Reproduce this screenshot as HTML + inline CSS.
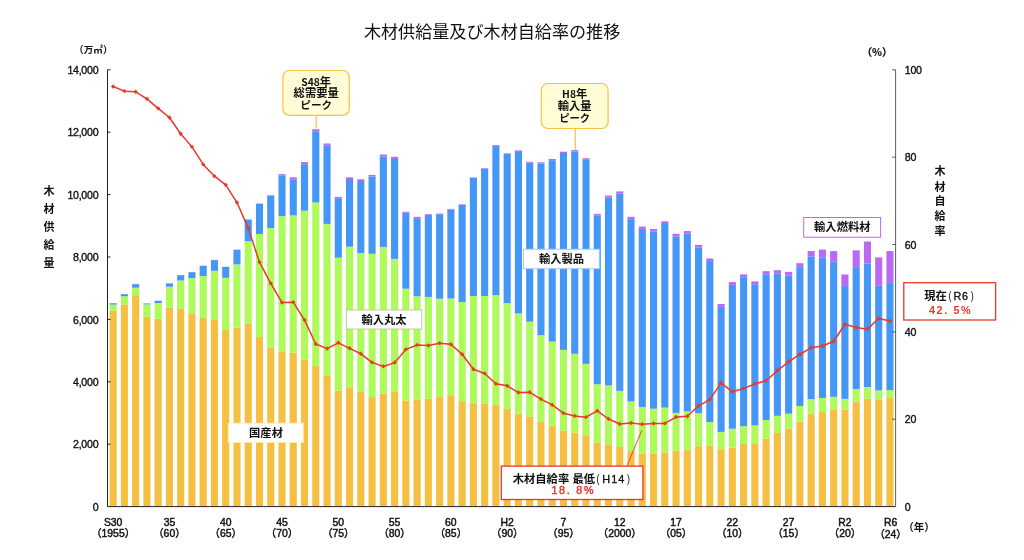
<!DOCTYPE html>
<html lang="ja"><head><meta charset="utf-8"><title>木材供給量及び木材自給率の推移</title>
<style>
html,body{margin:0;padding:0;background:#fff;}
body{width:1024px;height:560px;overflow:hidden;}
svg{display:block;}
text{font-family:"Liberation Sans","Noto Sans CJK JP",sans-serif;fill:#111;}
.jp{font-family:"Noto Sans CJK JP","Liberation Sans",sans-serif;}
.b{font-weight:bold;}
</style></head><body>
<svg width="1024" height="560" viewBox="0 0 1024 560">
<rect x="0" y="0" width="1024" height="560" fill="#fff"/>
<text class="jp" x="492.1" y="38.4" font-size="17.1" text-anchor="middle" fill="#1a1a1a">木材供給量及び木材自給率の推移</text>
<g fill="#f5bf42">
<rect x="109.58" y="310.80" width="7.10" height="195.80"/><rect x="120.84" y="304.40" width="7.10" height="202.20"/><rect x="132.10" y="295.10" width="7.10" height="211.50"/><rect x="143.35" y="316.80" width="7.10" height="189.80"/><rect x="154.61" y="318.90" width="7.10" height="187.70"/><rect x="165.87" y="307.60" width="7.10" height="199.00"/><rect x="177.13" y="308.90" width="7.10" height="197.70"/><rect x="188.39" y="313.40" width="7.10" height="193.20"/><rect x="199.65" y="317.90" width="7.10" height="188.70"/><rect x="210.91" y="320.00" width="7.10" height="186.60"/><rect x="222.16" y="330.00" width="7.10" height="176.60"/><rect x="233.42" y="327.70" width="7.10" height="178.90"/><rect x="244.68" y="323.50" width="7.10" height="183.10"/><rect x="255.94" y="337.00" width="7.10" height="169.60"/><rect x="267.20" y="347.50" width="7.10" height="159.10"/><rect x="278.46" y="351.30" width="7.10" height="155.30"/><rect x="289.72" y="352.50" width="7.10" height="154.10"/><rect x="300.97" y="359.50" width="7.10" height="147.10"/><rect x="312.23" y="366.10" width="7.10" height="140.50"/><rect x="323.49" y="375.30" width="7.10" height="131.30"/><rect x="334.75" y="390.50" width="7.10" height="116.10"/><rect x="346.01" y="387.30" width="7.10" height="119.30"/><rect x="357.27" y="392.10" width="7.10" height="114.50"/><rect x="368.53" y="397.10" width="7.10" height="109.50"/><rect x="379.79" y="393.60" width="7.10" height="113.00"/><rect x="391.04" y="391.30" width="7.10" height="115.30"/><rect x="402.30" y="400.50" width="7.10" height="106.10"/><rect x="413.56" y="399.40" width="7.10" height="107.20"/><rect x="424.82" y="398.80" width="7.10" height="107.80"/><rect x="436.08" y="397.00" width="7.10" height="109.60"/><rect x="447.34" y="396.00" width="7.10" height="110.60"/><rect x="458.59" y="401.20" width="7.10" height="105.40"/><rect x="469.85" y="403.10" width="7.10" height="103.50"/><rect x="481.11" y="403.40" width="7.10" height="103.20"/><rect x="492.37" y="404.90" width="7.10" height="101.70"/><rect x="503.63" y="408.90" width="7.10" height="97.70"/><rect x="514.89" y="413.60" width="7.10" height="93.00"/><rect x="526.15" y="416.40" width="7.10" height="90.20"/><rect x="537.41" y="421.90" width="7.10" height="84.70"/><rect x="548.66" y="425.70" width="7.10" height="80.90"/><rect x="559.92" y="430.70" width="7.10" height="75.90"/><rect x="571.18" y="432.60" width="7.10" height="74.00"/><rect x="582.44" y="435.30" width="7.10" height="71.30"/><rect x="593.70" y="442.40" width="7.10" height="64.20"/><rect x="604.96" y="444.20" width="7.10" height="62.40"/><rect x="616.22" y="447.00" width="7.10" height="59.60"/><rect x="627.47" y="451.20" width="7.10" height="55.40"/><rect x="638.73" y="453.80" width="7.10" height="52.80"/><rect x="649.99" y="453.80" width="7.10" height="52.80"/><rect x="661.25" y="452.30" width="7.10" height="54.30"/><rect x="672.51" y="450.70" width="7.10" height="55.90"/><rect x="683.77" y="449.60" width="7.10" height="57.00"/><rect x="695.03" y="446.20" width="7.10" height="60.40"/><rect x="706.28" y="445.80" width="7.10" height="60.80"/><rect x="717.54" y="449.20" width="7.10" height="57.40"/><rect x="728.80" y="447.60" width="7.10" height="59.00"/><rect x="740.06" y="443.80" width="7.10" height="62.80"/><rect x="751.32" y="443.30" width="7.10" height="63.30"/><rect x="762.58" y="438.80" width="7.10" height="67.80"/><rect x="773.84" y="433.00" width="7.10" height="73.60"/><rect x="785.09" y="428.80" width="7.10" height="77.80"/><rect x="796.35" y="421.70" width="7.10" height="84.90"/><rect x="807.61" y="413.70" width="7.10" height="92.90"/><rect x="818.87" y="412.10" width="7.10" height="94.50"/><rect x="830.13" y="409.90" width="7.10" height="96.70"/><rect x="841.39" y="409.70" width="7.10" height="96.90"/><rect x="852.65" y="401.50" width="7.10" height="105.10"/><rect x="863.90" y="398.90" width="7.10" height="107.70"/><rect x="875.16" y="399.30" width="7.10" height="107.30"/><rect x="886.42" y="398.00" width="7.10" height="108.60"/>
</g>
<g fill="#aefa5b">
<rect x="109.58" y="304.60" width="7.10" height="6.20"/><rect x="120.84" y="296.20" width="7.10" height="8.20"/><rect x="132.10" y="287.70" width="7.10" height="7.40"/><rect x="143.35" y="304.40" width="7.10" height="12.40"/><rect x="154.61" y="303.00" width="7.10" height="15.90"/><rect x="165.87" y="286.70" width="7.10" height="20.90"/><rect x="177.13" y="280.50" width="7.10" height="28.40"/><rect x="188.39" y="278.10" width="7.10" height="35.30"/><rect x="199.65" y="276.00" width="7.10" height="41.90"/><rect x="210.91" y="270.80" width="7.10" height="49.20"/><rect x="222.16" y="277.80" width="7.10" height="52.20"/><rect x="233.42" y="264.40" width="7.10" height="63.30"/><rect x="244.68" y="241.10" width="7.10" height="82.40"/><rect x="255.94" y="234.00" width="7.10" height="103.00"/><rect x="267.20" y="228.10" width="7.10" height="119.40"/><rect x="278.46" y="216.20" width="7.10" height="135.10"/><rect x="289.72" y="215.40" width="7.10" height="137.10"/><rect x="300.97" y="210.70" width="7.10" height="148.80"/><rect x="312.23" y="202.50" width="7.10" height="163.60"/><rect x="323.49" y="223.90" width="7.10" height="151.40"/><rect x="334.75" y="257.70" width="7.10" height="132.80"/><rect x="346.01" y="246.70" width="7.10" height="140.60"/><rect x="357.27" y="253.00" width="7.10" height="139.10"/><rect x="368.53" y="253.80" width="7.10" height="143.30"/><rect x="379.79" y="246.90" width="7.10" height="146.70"/><rect x="391.04" y="258.90" width="7.10" height="132.40"/><rect x="402.30" y="288.70" width="7.10" height="111.80"/><rect x="413.56" y="296.30" width="7.10" height="103.10"/><rect x="424.82" y="296.90" width="7.10" height="101.90"/><rect x="436.08" y="298.70" width="7.10" height="98.30"/><rect x="447.34" y="298.50" width="7.10" height="97.50"/><rect x="458.59" y="302.10" width="7.10" height="99.10"/><rect x="469.85" y="296.00" width="7.10" height="107.10"/><rect x="481.11" y="296.00" width="7.10" height="107.40"/><rect x="492.37" y="295.20" width="7.10" height="109.70"/><rect x="503.63" y="303.20" width="7.10" height="105.70"/><rect x="514.89" y="313.50" width="7.10" height="100.10"/><rect x="526.15" y="321.70" width="7.10" height="94.70"/><rect x="537.41" y="335.20" width="7.10" height="86.70"/><rect x="548.66" y="341.60" width="7.10" height="84.10"/><rect x="559.92" y="349.90" width="7.10" height="80.80"/><rect x="571.18" y="353.80" width="7.10" height="78.80"/><rect x="582.44" y="363.80" width="7.10" height="71.50"/><rect x="593.70" y="384.20" width="7.10" height="58.20"/><rect x="604.96" y="385.40" width="7.10" height="58.80"/><rect x="616.22" y="390.90" width="7.10" height="56.10"/><rect x="627.47" y="401.50" width="7.10" height="49.70"/><rect x="638.73" y="407.10" width="7.10" height="46.70"/><rect x="649.99" y="408.70" width="7.10" height="45.10"/><rect x="661.25" y="407.60" width="7.10" height="44.70"/><rect x="672.51" y="412.90" width="7.10" height="37.80"/><rect x="683.77" y="411.30" width="7.10" height="38.30"/><rect x="695.03" y="413.20" width="7.10" height="33.00"/><rect x="706.28" y="422.10" width="7.10" height="23.70"/><rect x="717.54" y="431.90" width="7.10" height="17.30"/><rect x="728.80" y="428.70" width="7.10" height="18.90"/><rect x="740.06" y="426.10" width="7.10" height="17.70"/><rect x="751.32" y="425.40" width="7.10" height="17.90"/><rect x="762.58" y="420.00" width="7.10" height="18.80"/><rect x="773.84" y="415.80" width="7.10" height="17.20"/><rect x="785.09" y="413.70" width="7.10" height="15.10"/><rect x="796.35" y="406.00" width="7.10" height="15.70"/><rect x="807.61" y="399.10" width="7.10" height="14.60"/><rect x="818.87" y="398.00" width="7.10" height="14.10"/><rect x="830.13" y="396.80" width="7.10" height="13.10"/><rect x="841.39" y="398.90" width="7.10" height="10.80"/><rect x="852.65" y="389.10" width="7.10" height="12.40"/><rect x="863.90" y="387.00" width="7.10" height="11.90"/><rect x="875.16" y="390.40" width="7.10" height="8.90"/><rect x="886.42" y="390.10" width="7.10" height="7.90"/>
</g>
<g fill="#4497f7">
<rect x="109.58" y="303.30" width="7.10" height="1.30"/><rect x="120.84" y="294.20" width="7.10" height="2.00"/><rect x="132.10" y="284.20" width="7.10" height="3.50"/><rect x="143.35" y="303.60" width="7.10" height="0.80"/><rect x="154.61" y="300.90" width="7.10" height="2.10"/><rect x="165.87" y="283.50" width="7.10" height="3.20"/><rect x="177.13" y="275.20" width="7.10" height="5.30"/><rect x="188.39" y="272.20" width="7.10" height="5.90"/><rect x="199.65" y="265.90" width="7.10" height="10.10"/><rect x="210.91" y="260.10" width="7.10" height="10.70"/><rect x="222.16" y="267.00" width="7.10" height="10.80"/><rect x="233.42" y="249.80" width="7.10" height="14.60"/><rect x="244.68" y="219.60" width="7.10" height="21.50"/><rect x="255.94" y="203.70" width="7.10" height="30.30"/><rect x="267.20" y="195.40" width="7.10" height="32.70"/><rect x="278.46" y="175.40" width="7.10" height="40.80"/><rect x="289.72" y="179.30" width="7.10" height="36.10"/><rect x="300.97" y="164.30" width="7.10" height="46.40"/><rect x="312.23" y="131.20" width="7.10" height="71.30"/><rect x="323.49" y="145.70" width="7.10" height="78.20"/><rect x="334.75" y="198.20" width="7.10" height="59.50"/><rect x="346.01" y="179.00" width="7.10" height="67.70"/><rect x="357.27" y="181.00" width="7.10" height="72.00"/><rect x="368.53" y="176.50" width="7.10" height="77.30"/><rect x="379.79" y="156.60" width="7.10" height="90.30"/><rect x="391.04" y="159.00" width="7.10" height="99.90"/><rect x="402.30" y="212.80" width="7.10" height="75.90"/><rect x="413.56" y="218.20" width="7.10" height="78.10"/><rect x="424.82" y="215.00" width="7.10" height="81.90"/><rect x="436.08" y="214.20" width="7.10" height="84.50"/><rect x="447.34" y="209.70" width="7.10" height="88.80"/><rect x="458.59" y="204.90" width="7.10" height="97.20"/><rect x="469.85" y="177.90" width="7.10" height="118.10"/><rect x="481.11" y="168.60" width="7.10" height="127.40"/><rect x="492.37" y="145.50" width="7.10" height="149.70"/><rect x="503.63" y="153.80" width="7.10" height="149.40"/><rect x="514.89" y="151.10" width="7.10" height="162.40"/><rect x="526.15" y="162.70" width="7.10" height="159.00"/><rect x="537.41" y="163.50" width="7.10" height="171.70"/><rect x="548.66" y="160.20" width="7.10" height="181.40"/><rect x="559.92" y="153.00" width="7.10" height="196.90"/><rect x="571.18" y="151.60" width="7.10" height="202.20"/><rect x="582.44" y="159.80" width="7.10" height="204.00"/><rect x="593.70" y="215.30" width="7.10" height="168.90"/><rect x="604.96" y="197.50" width="7.10" height="187.90"/><rect x="616.22" y="193.70" width="7.10" height="197.20"/><rect x="627.47" y="219.10" width="7.10" height="182.40"/><rect x="638.73" y="228.90" width="7.10" height="178.20"/><rect x="649.99" y="231.70" width="7.10" height="177.00"/><rect x="661.25" y="224.00" width="7.10" height="183.60"/><rect x="672.51" y="236.50" width="7.10" height="176.40"/><rect x="683.77" y="233.60" width="7.10" height="177.70"/><rect x="695.03" y="247.30" width="7.10" height="165.90"/><rect x="706.28" y="261.10" width="7.10" height="161.00"/><rect x="717.54" y="306.90" width="7.10" height="125.00"/><rect x="728.80" y="284.90" width="7.10" height="143.80"/><rect x="740.06" y="277.20" width="7.10" height="148.90"/><rect x="751.32" y="284.20" width="7.10" height="141.20"/><rect x="762.58" y="274.30" width="7.10" height="145.70"/><rect x="773.84" y="273.40" width="7.10" height="142.40"/><rect x="785.09" y="275.60" width="7.10" height="138.10"/><rect x="796.35" y="267.20" width="7.10" height="138.80"/><rect x="807.61" y="256.60" width="7.10" height="142.50"/><rect x="818.87" y="257.70" width="7.10" height="140.30"/><rect x="830.13" y="261.80" width="7.10" height="135.00"/><rect x="841.39" y="286.10" width="7.10" height="112.80"/><rect x="852.65" y="267.20" width="7.10" height="121.90"/><rect x="863.90" y="263.50" width="7.10" height="123.50"/><rect x="875.16" y="285.80" width="7.10" height="104.60"/><rect x="886.42" y="283.10" width="7.10" height="107.00"/>
</g>
<g fill="#b96af3">
<rect x="109.58" y="303.00" width="7.10" height="0.30"/><rect x="120.84" y="294.00" width="7.10" height="0.20"/><rect x="132.10" y="283.90" width="7.10" height="0.30"/><rect x="143.35" y="303.30" width="7.10" height="0.30"/><rect x="154.61" y="300.70" width="7.10" height="0.20"/><rect x="165.87" y="283.20" width="7.10" height="0.30"/><rect x="177.13" y="275.00" width="7.10" height="0.20"/><rect x="188.39" y="272.00" width="7.10" height="0.20"/><rect x="199.65" y="265.70" width="7.10" height="0.20"/><rect x="210.91" y="259.90" width="7.10" height="0.20"/><rect x="222.16" y="266.80" width="7.10" height="0.20"/><rect x="233.42" y="249.60" width="7.10" height="0.20"/><rect x="244.68" y="219.40" width="7.10" height="0.20"/><rect x="255.94" y="203.50" width="7.10" height="0.20"/><rect x="267.20" y="195.20" width="7.10" height="0.20"/><rect x="278.46" y="174.10" width="7.10" height="1.30"/><rect x="289.72" y="177.30" width="7.10" height="2.00"/><rect x="300.97" y="162.10" width="7.10" height="2.20"/><rect x="312.23" y="129.20" width="7.10" height="2.00"/><rect x="323.49" y="143.50" width="7.10" height="2.20"/><rect x="334.75" y="196.90" width="7.10" height="1.30"/><rect x="346.01" y="177.30" width="7.10" height="1.70"/><rect x="357.27" y="179.30" width="7.10" height="1.70"/><rect x="368.53" y="174.90" width="7.10" height="1.60"/><rect x="379.79" y="154.50" width="7.10" height="2.10"/><rect x="391.04" y="156.80" width="7.10" height="2.20"/><rect x="402.30" y="211.80" width="7.10" height="1.00"/><rect x="413.56" y="216.90" width="7.10" height="1.30"/><rect x="424.82" y="214.20" width="7.10" height="0.80"/><rect x="436.08" y="213.60" width="7.10" height="0.60"/><rect x="447.34" y="208.90" width="7.10" height="0.80"/><rect x="458.59" y="204.30" width="7.10" height="0.60"/><rect x="469.85" y="177.40" width="7.10" height="0.50"/><rect x="481.11" y="168.10" width="7.10" height="0.50"/><rect x="492.37" y="145.00" width="7.10" height="0.50"/><rect x="503.63" y="153.30" width="7.10" height="0.50"/><rect x="514.89" y="150.40" width="7.10" height="0.70"/><rect x="526.15" y="161.80" width="7.10" height="0.90"/><rect x="537.41" y="162.30" width="7.10" height="1.20"/><rect x="548.66" y="159.00" width="7.10" height="1.20"/><rect x="559.92" y="151.70" width="7.10" height="1.30"/><rect x="571.18" y="150.10" width="7.10" height="1.50"/><rect x="582.44" y="158.20" width="7.10" height="1.60"/><rect x="593.70" y="213.90" width="7.10" height="1.40"/><rect x="604.96" y="195.60" width="7.10" height="1.90"/><rect x="616.22" y="191.40" width="7.10" height="2.30"/><rect x="627.47" y="216.80" width="7.10" height="2.30"/><rect x="638.73" y="226.60" width="7.10" height="2.30"/><rect x="649.99" y="229.00" width="7.10" height="2.70"/><rect x="661.25" y="221.30" width="7.10" height="2.70"/><rect x="672.51" y="233.80" width="7.10" height="2.70"/><rect x="683.77" y="231.10" width="7.10" height="2.50"/><rect x="695.03" y="244.90" width="7.10" height="2.40"/><rect x="706.28" y="258.50" width="7.10" height="2.60"/><rect x="717.54" y="304.00" width="7.10" height="2.90"/><rect x="728.80" y="282.10" width="7.10" height="2.80"/><rect x="740.06" y="274.40" width="7.10" height="2.80"/><rect x="751.32" y="281.40" width="7.10" height="2.80"/><rect x="762.58" y="271.20" width="7.10" height="3.10"/><rect x="773.84" y="270.20" width="7.10" height="3.20"/><rect x="785.09" y="271.90" width="7.10" height="3.70"/><rect x="796.35" y="263.20" width="7.10" height="4.00"/><rect x="807.61" y="251.10" width="7.10" height="5.50"/><rect x="818.87" y="249.60" width="7.10" height="8.10"/><rect x="830.13" y="251.10" width="7.10" height="10.70"/><rect x="841.39" y="274.50" width="7.10" height="11.60"/><rect x="852.65" y="250.30" width="7.10" height="16.90"/><rect x="863.90" y="241.50" width="7.10" height="22.00"/><rect x="875.16" y="257.40" width="7.10" height="28.40"/><rect x="886.42" y="251.10" width="7.10" height="32.00"/>
</g>
<g stroke="#222" stroke-width="1" fill="none">
<path d="M107.50 69.80 V506.60 H895.60"/>
<path d="M107.50 444.20 h3"/><path d="M107.50 381.80 h3"/><path d="M107.50 319.40 h3"/><path d="M107.50 257.00 h3"/><path d="M107.50 194.60 h3"/><path d="M107.50 132.20 h3"/><path d="M107.50 69.80 h3"/>
</g>
<g stroke="#333" stroke-width="0.8" fill="none">
<path d="M895.60 69.80 V506.60"/>
<path d="M895.60 419.24 h-3.4"/><path d="M895.60 331.88 h-3.4"/><path d="M895.60 244.52 h-3.4"/><path d="M895.60 157.16 h-3.4"/><path d="M895.60 69.80 h-3.4"/>
</g>
<g font-size="10.6" text-anchor="end" letter-spacing="-0.25" stroke="#111" stroke-width="0.36">
<text x="98.3" y="510.80">0</text><text x="98.3" y="448.40">2,000</text><text x="98.3" y="386.00">4,000</text><text x="98.3" y="323.60">6,000</text><text x="98.3" y="261.20">8,000</text><text x="98.3" y="198.80">10,000</text><text x="98.3" y="136.40">12,000</text><text x="98.3" y="74.00">14,000</text>
</g>
<g font-size="10.6" text-anchor="start" letter-spacing="-0.25" stroke="#111" stroke-width="0.36">
<text x="904.8" y="510.80">0</text><text x="904.8" y="423.44">20</text><text x="904.8" y="336.08">40</text><text x="904.8" y="248.72">60</text><text x="904.8" y="161.36">80</text><text x="904.8" y="74.00">100</text>
</g>
<text class="jp b" x="93.3" y="53" font-size="9.6" text-anchor="middle">（万㎥）</text>
<text class="jp b" x="877.1" y="56.2" font-size="10.4" text-anchor="middle" stroke="#111" stroke-width="0.2">（%）</text>
<text class="jp b" x="918.9" y="530.5" font-size="10.5" text-anchor="middle">（年）</text>
<g class="jp b" font-size="11" text-anchor="middle">
<text class="jp" x="49" y="194.7">木</text><text class="jp" x="49" y="213.0">材</text><text class="jp" x="49" y="230.7">供</text><text class="jp" x="49" y="248.7">給</text><text class="jp" x="49" y="266.7">量</text><text class="jp" x="940" y="175.4">木</text><text class="jp" x="940" y="190.6">材</text><text class="jp" x="940" y="205.2">自</text><text class="jp" x="940" y="220.0">給</text><text class="jp" x="940" y="234.7">率</text>
</g>
<g font-size="10.4" text-anchor="middle" stroke="#111" stroke-width="0.45">
<text x="113.13" y="525.50">S30</text><text x="113.13" y="537.30">（1955）</text><text x="169.42" y="525.50">35</text><text x="169.42" y="537.30">（60）</text><text x="225.72" y="525.50">40</text><text x="225.72" y="537.30">（65）</text><text x="282.01" y="525.50">45</text><text x="282.01" y="537.30">（70）</text><text x="338.30" y="525.50">50</text><text x="338.30" y="537.30">（75）</text><text x="394.59" y="525.50">55</text><text x="394.59" y="537.30">（80）</text><text x="450.89" y="525.50">60</text><text x="450.89" y="537.30">（85）</text><text x="507.18" y="525.50">H2</text><text x="507.18" y="537.30">（90）</text><text x="563.47" y="525.50">7</text><text x="563.47" y="537.30">（95）</text><text x="619.76" y="525.50">12</text><text x="619.76" y="537.30">（2000）</text><text x="676.06" y="525.50">17</text><text x="676.06" y="537.30">（05）</text><text x="732.35" y="525.50">22</text><text x="732.35" y="537.30">（10）</text><text x="788.64" y="525.50">27</text><text x="788.64" y="537.30">（15）</text><text x="844.94" y="525.50">R2</text><text x="844.94" y="537.30">（20）</text><text x="890.57" y="526.40">R6</text><text x="890.57" y="538.20">（24）</text>
</g>
<g stroke="#f6c244" stroke-width="1.2">
<path d="M316.2 115 V128.6"/><path d="M575.3 128 V150"/>
</g>
<polyline fill="none" stroke="#e8392b" stroke-width="1.5" stroke-linejoin="round" points="113.13,86.53 124.39,91.17 135.65,91.77 146.91,98.81 158.16,108.41 169.42,117.51 180.68,133.74 191.94,146.88 203.20,164.45 214.46,176.21 225.72,184.92 236.97,202.54 248.23,228.12 259.49,262.19 270.75,283.43 282.01,302.58 293.27,302.19 304.52,320.09 315.78,343.99 327.04,348.65 338.30,342.85 349.56,348.35 360.82,353.79 372.08,362.40 383.34,366.42 394.59,362.62 405.85,349.39 417.11,344.97 428.37,345.56 439.63,343.21 450.89,344.32 462.14,354.31 473.40,369.27 484.66,373.43 495.92,383.75 507.18,385.81 518.44,392.56 529.70,392.33 540.96,399.14 552.21,404.94 563.47,413.18 574.73,415.93 585.99,417.21 597.25,410.79 608.51,418.96 619.76,424.01 631.02,423.10 642.28,424.23 653.54,423.52 664.80,423.47 676.06,417.09 687.32,416.23 698.58,405.79 709.83,399.56 721.09,382.85 732.35,391.81 743.61,388.46 754.87,383.82 766.13,380.79 777.38,370.61 788.64,361.81 799.90,354.24 811.16,347.78 822.42,345.99 833.68,341.28 844.94,324.24 856.20,327.48 867.45,329.14 878.71,318.52 889.97,320.94"/>
<g fill="#e8392b">
<path d="M113.13 84.28 l2.2 2.2 l-2.2 2.2 l-2.2 -2.2 z"/><path d="M124.39 88.92 l2.2 2.2 l-2.2 2.2 l-2.2 -2.2 z"/><path d="M135.65 89.52 l2.2 2.2 l-2.2 2.2 l-2.2 -2.2 z"/><path d="M146.91 96.56 l2.2 2.2 l-2.2 2.2 l-2.2 -2.2 z"/><path d="M158.16 106.16 l2.2 2.2 l-2.2 2.2 l-2.2 -2.2 z"/><path d="M169.42 115.26 l2.2 2.2 l-2.2 2.2 l-2.2 -2.2 z"/><path d="M180.68 131.49 l2.2 2.2 l-2.2 2.2 l-2.2 -2.2 z"/><path d="M191.94 144.63 l2.2 2.2 l-2.2 2.2 l-2.2 -2.2 z"/><path d="M203.20 162.20 l2.2 2.2 l-2.2 2.2 l-2.2 -2.2 z"/><path d="M214.46 173.96 l2.2 2.2 l-2.2 2.2 l-2.2 -2.2 z"/><path d="M225.72 182.67 l2.2 2.2 l-2.2 2.2 l-2.2 -2.2 z"/><path d="M236.97 200.29 l2.2 2.2 l-2.2 2.2 l-2.2 -2.2 z"/><path d="M248.23 225.87 l2.2 2.2 l-2.2 2.2 l-2.2 -2.2 z"/><path d="M259.49 259.94 l2.2 2.2 l-2.2 2.2 l-2.2 -2.2 z"/><path d="M270.75 281.18 l2.2 2.2 l-2.2 2.2 l-2.2 -2.2 z"/><path d="M282.01 300.33 l2.2 2.2 l-2.2 2.2 l-2.2 -2.2 z"/><path d="M293.27 299.94 l2.2 2.2 l-2.2 2.2 l-2.2 -2.2 z"/><path d="M304.52 317.84 l2.2 2.2 l-2.2 2.2 l-2.2 -2.2 z"/><path d="M315.78 341.74 l2.2 2.2 l-2.2 2.2 l-2.2 -2.2 z"/><path d="M327.04 346.40 l2.2 2.2 l-2.2 2.2 l-2.2 -2.2 z"/><path d="M338.30 340.60 l2.2 2.2 l-2.2 2.2 l-2.2 -2.2 z"/><path d="M349.56 346.10 l2.2 2.2 l-2.2 2.2 l-2.2 -2.2 z"/><path d="M360.82 351.54 l2.2 2.2 l-2.2 2.2 l-2.2 -2.2 z"/><path d="M372.08 360.15 l2.2 2.2 l-2.2 2.2 l-2.2 -2.2 z"/><path d="M383.34 364.17 l2.2 2.2 l-2.2 2.2 l-2.2 -2.2 z"/><path d="M394.59 360.37 l2.2 2.2 l-2.2 2.2 l-2.2 -2.2 z"/><path d="M405.85 347.14 l2.2 2.2 l-2.2 2.2 l-2.2 -2.2 z"/><path d="M417.11 342.72 l2.2 2.2 l-2.2 2.2 l-2.2 -2.2 z"/><path d="M428.37 343.31 l2.2 2.2 l-2.2 2.2 l-2.2 -2.2 z"/><path d="M439.63 340.96 l2.2 2.2 l-2.2 2.2 l-2.2 -2.2 z"/><path d="M450.89 342.07 l2.2 2.2 l-2.2 2.2 l-2.2 -2.2 z"/><path d="M462.14 352.06 l2.2 2.2 l-2.2 2.2 l-2.2 -2.2 z"/><path d="M473.40 367.02 l2.2 2.2 l-2.2 2.2 l-2.2 -2.2 z"/><path d="M484.66 371.18 l2.2 2.2 l-2.2 2.2 l-2.2 -2.2 z"/><path d="M495.92 381.50 l2.2 2.2 l-2.2 2.2 l-2.2 -2.2 z"/><path d="M507.18 383.56 l2.2 2.2 l-2.2 2.2 l-2.2 -2.2 z"/><path d="M518.44 390.31 l2.2 2.2 l-2.2 2.2 l-2.2 -2.2 z"/><path d="M529.70 390.08 l2.2 2.2 l-2.2 2.2 l-2.2 -2.2 z"/><path d="M540.96 396.89 l2.2 2.2 l-2.2 2.2 l-2.2 -2.2 z"/><path d="M552.21 402.69 l2.2 2.2 l-2.2 2.2 l-2.2 -2.2 z"/><path d="M563.47 410.93 l2.2 2.2 l-2.2 2.2 l-2.2 -2.2 z"/><path d="M574.73 413.68 l2.2 2.2 l-2.2 2.2 l-2.2 -2.2 z"/><path d="M585.99 414.96 l2.2 2.2 l-2.2 2.2 l-2.2 -2.2 z"/><path d="M597.25 408.54 l2.2 2.2 l-2.2 2.2 l-2.2 -2.2 z"/><path d="M608.51 416.71 l2.2 2.2 l-2.2 2.2 l-2.2 -2.2 z"/><path d="M619.76 421.76 l2.2 2.2 l-2.2 2.2 l-2.2 -2.2 z"/><path d="M631.02 420.85 l2.2 2.2 l-2.2 2.2 l-2.2 -2.2 z"/><path d="M642.28 421.98 l2.2 2.2 l-2.2 2.2 l-2.2 -2.2 z"/><path d="M653.54 421.27 l2.2 2.2 l-2.2 2.2 l-2.2 -2.2 z"/><path d="M664.80 421.22 l2.2 2.2 l-2.2 2.2 l-2.2 -2.2 z"/><path d="M676.06 414.84 l2.2 2.2 l-2.2 2.2 l-2.2 -2.2 z"/><path d="M687.32 413.98 l2.2 2.2 l-2.2 2.2 l-2.2 -2.2 z"/><path d="M698.58 403.54 l2.2 2.2 l-2.2 2.2 l-2.2 -2.2 z"/><path d="M709.83 397.31 l2.2 2.2 l-2.2 2.2 l-2.2 -2.2 z"/><path d="M721.09 380.60 l2.2 2.2 l-2.2 2.2 l-2.2 -2.2 z"/><path d="M732.35 389.56 l2.2 2.2 l-2.2 2.2 l-2.2 -2.2 z"/><path d="M743.61 386.21 l2.2 2.2 l-2.2 2.2 l-2.2 -2.2 z"/><path d="M754.87 381.57 l2.2 2.2 l-2.2 2.2 l-2.2 -2.2 z"/><path d="M766.13 378.54 l2.2 2.2 l-2.2 2.2 l-2.2 -2.2 z"/><path d="M777.38 368.36 l2.2 2.2 l-2.2 2.2 l-2.2 -2.2 z"/><path d="M788.64 359.56 l2.2 2.2 l-2.2 2.2 l-2.2 -2.2 z"/><path d="M799.90 351.99 l2.2 2.2 l-2.2 2.2 l-2.2 -2.2 z"/><path d="M811.16 345.53 l2.2 2.2 l-2.2 2.2 l-2.2 -2.2 z"/><path d="M822.42 343.74 l2.2 2.2 l-2.2 2.2 l-2.2 -2.2 z"/><path d="M833.68 339.03 l2.2 2.2 l-2.2 2.2 l-2.2 -2.2 z"/><path d="M844.94 321.99 l2.2 2.2 l-2.2 2.2 l-2.2 -2.2 z"/><path d="M856.20 325.23 l2.2 2.2 l-2.2 2.2 l-2.2 -2.2 z"/><path d="M867.45 326.89 l2.2 2.2 l-2.2 2.2 l-2.2 -2.2 z"/><path d="M878.71 316.27 l2.2 2.2 l-2.2 2.2 l-2.2 -2.2 z"/><path d="M889.97 318.69 l2.2 2.2 l-2.2 2.2 l-2.2 -2.2 z"/>
</g>
<rect x="228.20" y="423.20" width="75.00" height="19.20" fill="#fff" stroke="#fbeeb8" stroke-width="0.90" rx="0.0"/>
<text class="jp b" x="266" y="437.1" font-size="11.3" text-anchor="middle">国産材</text>
<rect x="346.30" y="310.00" width="75.50" height="19.00" fill="#fff" stroke="#b9c98c" stroke-width="0.90" rx="0.0"/>
<text class="jp b" x="384" y="323.6" font-size="11.3" text-anchor="middle">輸入丸太</text>
<rect x="523.50" y="249.20" width="75.80" height="19.50" fill="#fff" stroke="#9cc8fb" stroke-width="0.90" rx="0.0"/>
<text class="jp b" x="561.5" y="263.1" font-size="11.3" text-anchor="middle">輸入製品</text>
<rect x="803.70" y="217.50" width="76.90" height="19.70" fill="#fff" stroke="#b96af3" stroke-width="1.00" rx="0.0"/>
<text class="jp b" x="842.3" y="231.4" font-size="11.3" text-anchor="middle">輸入燃料材</text>
<rect x="282.90" y="70.50" width="66.40" height="44.90" fill="#fffcd6" stroke="#f6c244" stroke-width="1.20" rx="6.5"/>
<g class="jp b" font-size="11.3" text-anchor="middle"><text class="jp" x="316.2" y="86.1"><tspan font-size="10.3">S48</tspan>年</text><text class="jp" x="316.2" y="97.4">総需要量</text><text class="jp" x="316.2" y="109.2" font-size="10.6">ピーク</text></g>
<rect x="541.30" y="83.50" width="66.80" height="45.00" fill="#fffcd6" stroke="#f6c244" stroke-width="1.20" rx="6.5"/>
<g class="jp b" font-size="11.3" text-anchor="middle"><text class="jp" x="574.7" y="98.4"><tspan font-size="10.3">H8</tspan>年</text><text class="jp" x="574.7" y="110.4">輸入量</text><text class="jp" x="574.7" y="121.9" font-size="10.3">ピーク</text></g>
<path d="M641.9 430.2 L627.1 465.5" stroke="#e8392b" stroke-width="0.9" fill="none"/>
<rect x="501.30" y="466.10" width="141.60" height="33.40" fill="#fff" stroke="#e8392b" stroke-width="1.30" rx="0.0"/>
<text class="jp b" x="512.7" y="483.2" font-size="11.3">木材自給率<tspan x="572.5">最低</tspan><tspan x="596" font-weight="normal" font-size="11">(</tspan><tspan x="602.3" font-family="Liberation Sans, sans-serif" font-weight="normal" font-size="10.8" letter-spacing="1.1" stroke="#111" stroke-width="0.35">H14</tspan><tspan x="626.8" font-weight="normal" font-size="11">)</tspan></text>
<text x="573.3" y="494.2" font-size="10.7" text-anchor="middle" letter-spacing="1.75" stroke="#e8392b" stroke-width="0.45" fill="#e8392b" style="fill:#e8392b">18. 8%</text>
<rect x="903.80" y="282.70" width="91.80" height="37.30" fill="#fff" stroke="#e8392b" stroke-width="1.30" rx="0.0"/>
<text class="jp b" x="924.2" y="300.2" font-size="11.3">現在<tspan x="948" font-weight="normal" font-size="11">(</tspan><tspan x="953.4" font-family="Liberation Sans, sans-serif" font-weight="normal" font-size="10.8" letter-spacing="0.9" stroke="#111" stroke-width="0.35">R6</tspan><tspan x="970.4" font-weight="normal" font-size="11">)</tspan></text>
<text class="b" x="950.6" y="314.2" font-size="10.8" text-anchor="middle" letter-spacing="1.6" fill="#e8392b" style="fill:#e8392b">42. 5%</text>
</svg>
</body></html>
